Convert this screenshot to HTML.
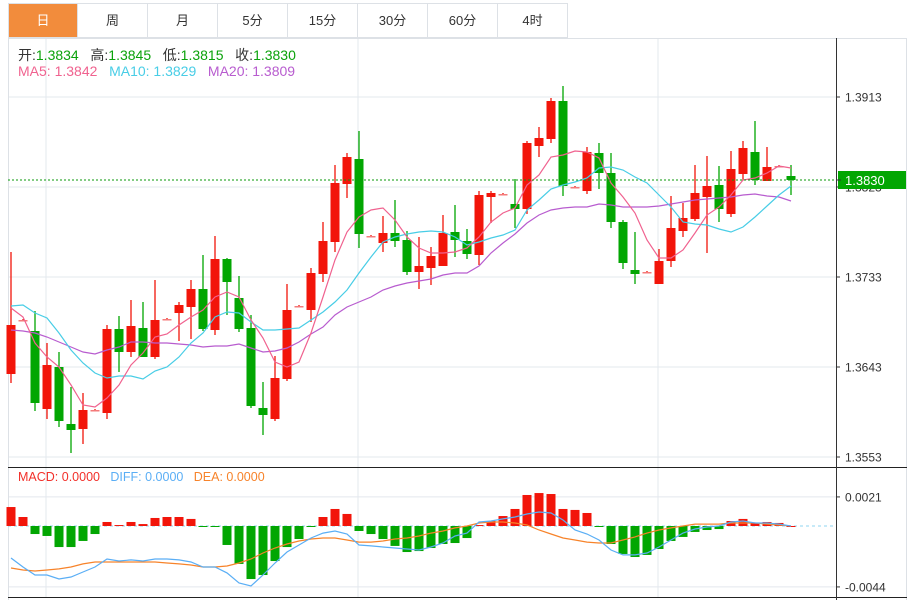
<!DOCTYPE html>
<html><head><meta charset="utf-8"><style>
body{margin:0;width:920px;height:600px;background:#fff;overflow:hidden;font-family:"Liberation Sans","Noto Sans CJK SC",sans-serif;}
.tab{position:absolute;top:3px;height:35px;width:70px;box-sizing:border-box;border:1px solid #dde1e6;border-left:none;font-size:13px;line-height:34px;text-align:center;color:#333;background:#fff;}
.tab.active{background:#f28c3c;color:#fff;}
</style></head><body>
<div class="tab active" style="left:8px;border-left:1px solid #dde1e6;">日</div>
<div class="tab" style="left:78px">周</div>
<div class="tab" style="left:148px">月</div>
<div class="tab" style="left:218px">5分</div>
<div class="tab" style="left:288px">15分</div>
<div class="tab" style="left:358px">30分</div>
<div class="tab" style="left:428px">60分</div>
<div class="tab" style="left:498px">4时</div>
<svg id="chart" width="920" height="600" style="position:absolute;left:0;top:0" xmlns="http://www.w3.org/2000/svg"></svg>
<script>
const opens=[1.3636,1.3690,1.3679,1.3601,1.3643,1.3586,1.3581,1.3600,1.3597,1.3681,1.3658,1.3682,1.3653,1.3691,1.3697,1.3703,1.3721,1.3680,1.3751,1.3712,1.3682,1.3602,1.3591,1.3631,1.3704,1.3700,1.3736,1.3768,1.3826,1.3851,1.3774,1.3767,1.3777,1.3770,1.3738,1.3742,1.3744,1.3778,1.3769,1.3755,1.3813,1.3816,1.3806,1.3801,1.3864,1.3871,1.3909,1.3823,1.3819,1.3857,1.3837,1.3788,1.3740,1.3738,1.3726,1.3749,1.3779,1.3791,1.3813,1.3825,1.3796,1.3836,1.3858,1.3829,1.3844,1.3834];
const highs=[1.3758,1.3691,1.3699,1.3667,1.3658,1.3623,1.3617,1.3601,1.3685,1.3694,1.3710,1.3708,1.3730,1.3692,1.3708,1.3730,1.3755,1.3774,1.3752,1.3734,1.3695,1.3628,1.3654,1.3726,1.3705,1.3742,1.3788,1.3845,1.3857,1.3879,1.3775,1.3794,1.3810,1.3779,1.3773,1.3763,1.3795,1.3805,1.3781,1.3819,1.3819,1.3817,1.3831,1.3869,1.3883,1.3912,1.3924,1.3824,1.3863,1.3867,1.3857,1.3790,1.3778,1.3739,1.3761,1.3814,1.3807,1.3845,1.3854,1.3844,1.3859,1.3869,1.3889,1.3863,1.3845,1.3845];
const lows=[1.3627,1.3689,1.3599,1.3591,1.3583,1.3557,1.3566,1.3599,1.3591,1.3638,1.3653,1.3653,1.3651,1.3690,1.3669,1.3671,1.3679,1.3675,1.3695,1.3678,1.3602,1.3575,1.3589,1.3629,1.3703,1.3688,1.3728,1.3758,1.3812,1.3762,1.3773,1.3758,1.3763,1.3735,1.3721,1.3725,1.3744,1.3753,1.3751,1.3745,1.3787,1.3815,1.3782,1.3796,1.3853,1.3867,1.3814,1.3822,1.3816,1.3821,1.3782,1.3741,1.3726,1.3737,1.3726,1.3743,1.3773,1.3789,1.3757,1.3788,1.3793,1.3830,1.3825,1.3829,1.3843,1.3815];
const closes=[1.3685,1.3690,1.3607,1.3645,1.3589,1.3580,1.3600,1.3600,1.3681,1.3658,1.3684,1.3653,1.3690,1.3691,1.3705,1.3721,1.3681,1.3751,1.3728,1.3681,1.3604,1.3595,1.3632,1.3700,1.3704,1.3737,1.3769,1.3827,1.3853,1.3776,1.3774,1.3777,1.3769,1.3738,1.3744,1.3754,1.3777,1.3770,1.3756,1.3815,1.3817,1.3816,1.3801,1.3867,1.3872,1.3909,1.3824,1.3823,1.3858,1.3837,1.3788,1.3747,1.3736,1.3738,1.3749,1.3782,1.3792,1.3817,1.3824,1.3801,1.3841,1.3862,1.3830,1.3843,1.3844,1.3830];
const ma5=[1.3702,1.3693,1.3667,1.3653,1.3643,1.3625,1.3605,1.3603,1.3612,1.3625,1.3645,1.3657,1.3673,1.3676,1.3685,1.3693,1.3700,1.3713,1.3718,1.3713,1.3690,1.3672,1.3648,1.3643,1.3648,1.3677,1.3713,1.3750,1.3778,1.3793,1.3800,1.3802,1.3790,1.3773,1.3762,1.3757,1.3757,1.3758,1.3762,1.3773,1.3788,1.3797,1.3802,1.3825,1.3835,1.3853,1.3855,1.3859,1.3858,1.3852,1.3827,1.3813,1.3797,1.3770,1.3752,1.3752,1.3760,1.3777,1.3795,1.3803,1.3815,1.3830,1.3832,1.3837,1.3844,1.3842];
const ma10=[1.3704,1.3705,1.3697,1.3692,1.3677,1.3660,1.3647,1.3637,1.3632,1.3634,1.3634,1.3631,1.3639,1.3643,1.3653,1.3667,1.3677,1.3693,1.3698,1.3697,1.3688,1.3680,1.3680,1.3681,1.3682,1.3690,1.3698,1.3708,1.3720,1.3737,1.3753,1.3768,1.3773,1.3776,1.3778,1.3779,1.3778,1.3773,1.3765,1.3768,1.3772,1.3775,1.3780,1.3800,1.3810,1.3821,1.3825,1.3828,1.3832,1.3842,1.3843,1.3840,1.3833,1.3827,1.3815,1.3803,1.3788,1.3786,1.3785,1.3781,1.3778,1.3783,1.3793,1.3804,1.3815,1.3824];
const ma20=[1.3680,1.3679,1.3677,1.3673,1.3668,1.3663,1.3658,1.3656,1.3660,1.3663,1.3668,1.3668,1.3667,1.3667,1.3666,1.3665,1.3663,1.3664,1.3664,1.3666,1.3662,1.3658,1.3659,1.3662,1.3668,1.3676,1.3683,1.3695,1.3703,1.3708,1.3713,1.3720,1.3724,1.3727,1.3729,1.3731,1.3735,1.3737,1.3737,1.3744,1.3757,1.3767,1.3776,1.3787,1.3795,1.3800,1.3802,1.3803,1.3803,1.3806,1.3805,1.3803,1.3803,1.3803,1.3804,1.3806,1.3808,1.3810,1.3811,1.3812,1.3813,1.3815,1.3816,1.3814,1.3813,1.3809];
// MACD values in units of 0.0001
const hist=[13.7,6.5,-5.8,-7.2,-15.2,-15.2,-10.8,-5.8,2.9,0.7,2.9,1.4,5.8,6.5,6.5,5.1,-0.3,-0.3,-13.7,-27.4,-38.3,-35.4,-25.3,-15.2,-9.4,-0.7,6.5,12.3,8.7,-3.6,-5.8,-9.4,-14.4,-18.8,-18.1,-15.9,-13.0,-12.3,-8.7,0.7,3.6,7.2,12.3,22.4,23.8,23.1,12.3,11.6,9.4,-0.7,-13.0,-20.2,-22.4,-20.9,-16.6,-10.8,-7.9,-4.3,-2.9,-2.2,3.6,5.1,2.2,2.9,2.2,0];
const diff=[-23.1,-29.6,-35.4,-35.4,-38.3,-36.8,-33.2,-29.6,-23.8,-25.3,-24.5,-25.3,-23.8,-23.8,-24.5,-26.0,-29.6,-29.6,-33.9,-41.2,-43.3,-35.4,-26.7,-18.8,-13.7,-8.7,-5.1,-3.6,-5.8,-13.7,-14.4,-15.2,-15.9,-16.6,-17.3,-15.2,-12.3,-7.2,-5.1,2.9,3.6,5.1,6.5,8.7,10.1,9.4,4.3,-2.9,-5.8,-10.1,-17.3,-20.9,-20.9,-19.5,-15.2,-10.1,-5.1,-2.2,-0.7,0,2.9,3.6,2.2,2.2,1.4,0];
const dea=[-30.3,-31.8,-32.5,-31.8,-31.0,-29.6,-27.4,-26.0,-26.0,-26.0,-26.0,-26.0,-26.0,-26.7,-27.4,-28.2,-29.6,-29.6,-28.9,-26.7,-23.8,-19.5,-15.9,-13.0,-10.8,-9.4,-8.7,-8.7,-10.1,-11.6,-11.6,-10.8,-9.4,-8.7,-7.2,-5.1,-3.6,-1.4,0,2.2,2.9,2.9,2.2,0.7,-2.9,-5.8,-8.7,-10.1,-11.6,-12.3,-12.3,-10.1,-7.9,-5.1,-2.9,-1.4,0,1.4,1.4,1.4,2.2,2.2,2.2,1.4,0.7,0];
const priceTicks=["1.3913","1.3823","1.3733","1.3643","1.3553"];
const macdTicks=["0.0021","-0.0044"];
const lastPrice=1.3830;

const svg=document.getElementById('chart');
const NS='http://www.w3.org/2000/svg';
function el(tag,attrs,parent){const e=document.createElementNS(NS,tag);for(const k in attrs)e.setAttribute(k,attrs[k]);(parent||svg).appendChild(e);return e;}
const xOf=i=>11+i*12;
const yP=p=>97+(1.3913-p)*10000;
const yM=v=>526-v*1.3846;
const RED='#f2150a',GREEN='#02a602';

const grid=el('g',{});


priceTicks.forEach(t=>{const y=yP(parseFloat(t));el('line',{x1:8,x2:836,y1:y,y2:y,stroke:'#e3e8ee','stroke-width':1},grid);});
macdTicks.forEach(t=>{const y=yM(parseFloat(t)*10000);el('line',{x1:8,x2:836,y1:y,y2:y,stroke:'#e3e8ee','stroke-width':1},grid);});
[46,358,658].forEach(x=>el('line',{x1:x,x2:x,y1:38,y2:597,stroke:'#e3e8ee','stroke-width':1},grid));
el('line',{x1:8.5,x2:8.5,y1:38,y2:600,stroke:'#dde1e6'},grid);
el('line',{x1:906.5,x2:906.5,y1:38,y2:600,stroke:'#dde1e6'},grid);
el('line',{x1:8,x2:907,y1:38.5,y2:38.5,stroke:'#dde1e6'},grid);
el('line',{x1:8,x2:907,y1:467.5,y2:467.5,stroke:'#222'},grid);
el('line',{x1:8,x2:907,y1:597.5,y2:597.5,stroke:'#222'},grid);
el('line',{x1:836.5,x2:836.5,y1:38,y2:600,stroke:'#333'},grid);

priceTicks.forEach(t=>{const y=yP(parseFloat(t));
 el('line',{x1:836,x2:840,y1:y,y2:y,stroke:'#333'});
 const tx=el('text',{x:845,y:y+4.5,'font-size':12,fill:'#333'});tx.textContent=t;
 
 });
macdTicks.forEach(t=>{const y=yM(parseFloat(t)*10000);
 el('line',{x1:836,x2:840,y1:y,y2:y,stroke:'#333'});
 const tx=el('text',{x:845,y:y+4.5,'font-size':12,fill:'#333'});tx.textContent=t;
 
 });

opens.forEach((o,i)=>{const c=closes[i],x=xOf(i);const up=c>=o;const col=up?RED:GREEN;
 const g=el('g',{});
 
 
 el('line',{x1:x,x2:x,y1:yP(highs[i]),y2:yP(lows[i]),stroke:col,'stroke-width':1.3},g);
 const top=yP(Math.max(o,c)),h=Math.max(1.5,Math.abs(yP(o)-yP(c)));
 el('rect',{x:x-4.5,y:top,width:9,height:h,fill:(Math.abs(o-c)<0.00015)?'#f47a7a':col},g);});

function poly(arr,yf,color,name){const p=el('polyline',{points:arr.map((v,i)=>xOf(i)+','+yf(v).toFixed(1)).join(' '),fill:'none',stroke:color,'stroke-width':1.2});
 
 }
poly(ma20,yP,'#b85ccf','ma20-line');
poly(ma10,yP,'#48cde6','ma10-line');
poly(ma5,yP,'#f0628f','ma5-line');

const ly=yP(lastPrice);
const lp=el('line',{x1:8,x2:836,y1:ly,y2:ly,stroke:'#0a9a0a','stroke-dasharray':'2,2'});


const box=el('rect',{x:838,y:ly-9,width:68,height:18,fill:'#02a602'});


el('line',{x1:836,x2:841,y1:ly,y2:ly,stroke:'#333'});
const lt=el('text',{x:845,y:ly+5,'font-size':13,fill:'#fff'});lt.textContent=lastPrice.toFixed(4);



const z=yM(0);
const zl=el('line',{x1:8,x2:836,y1:z,y2:z,stroke:'#8fd6f2','stroke-dasharray':'3,3'});


hist.forEach((v,i)=>{const y=yM(v);const r=el('rect',{x:xOf(i)-4.5,y:Math.min(y,z),width:9,height:Math.max(1,Math.abs(y-z)),fill:v>=0?RED:GREEN});
 
 });
poly(dea,yM,'#f7832a','dea-line');
poly(diff,yM,'#5aaef5','diff-line');
</script>
<div style="position:absolute;left:18px;top:45px;font-size:14px;color:#333;white-space:pre;">开:<span style="color:#0aa20a">1.3834</span>   高:<span style="color:#0aa20a">1.3845</span>   低:<span style="color:#0aa20a">1.3815</span>   收:<span style="color:#0aa20a">1.3830</span></div>
<div style="position:absolute;left:18px;top:63px;font-size:14px;white-space:pre;"><span style="color:#f0628f">MA5: 1.3842</span>   <span style="color:#48cde6">MA10: 1.3829</span>   <span style="color:#b85ccf">MA20: 1.3809</span></div>
<div style="position:absolute;left:18px;top:470px;font-size:12.5px;white-space:pre;"><span style="color:#f2302a">MACD: 0.0000</span>   <span style="color:#5aaef5">DIFF: 0.0000</span>   <span style="color:#f7832a">DEA: 0.0000</span></div>
</body></html>
